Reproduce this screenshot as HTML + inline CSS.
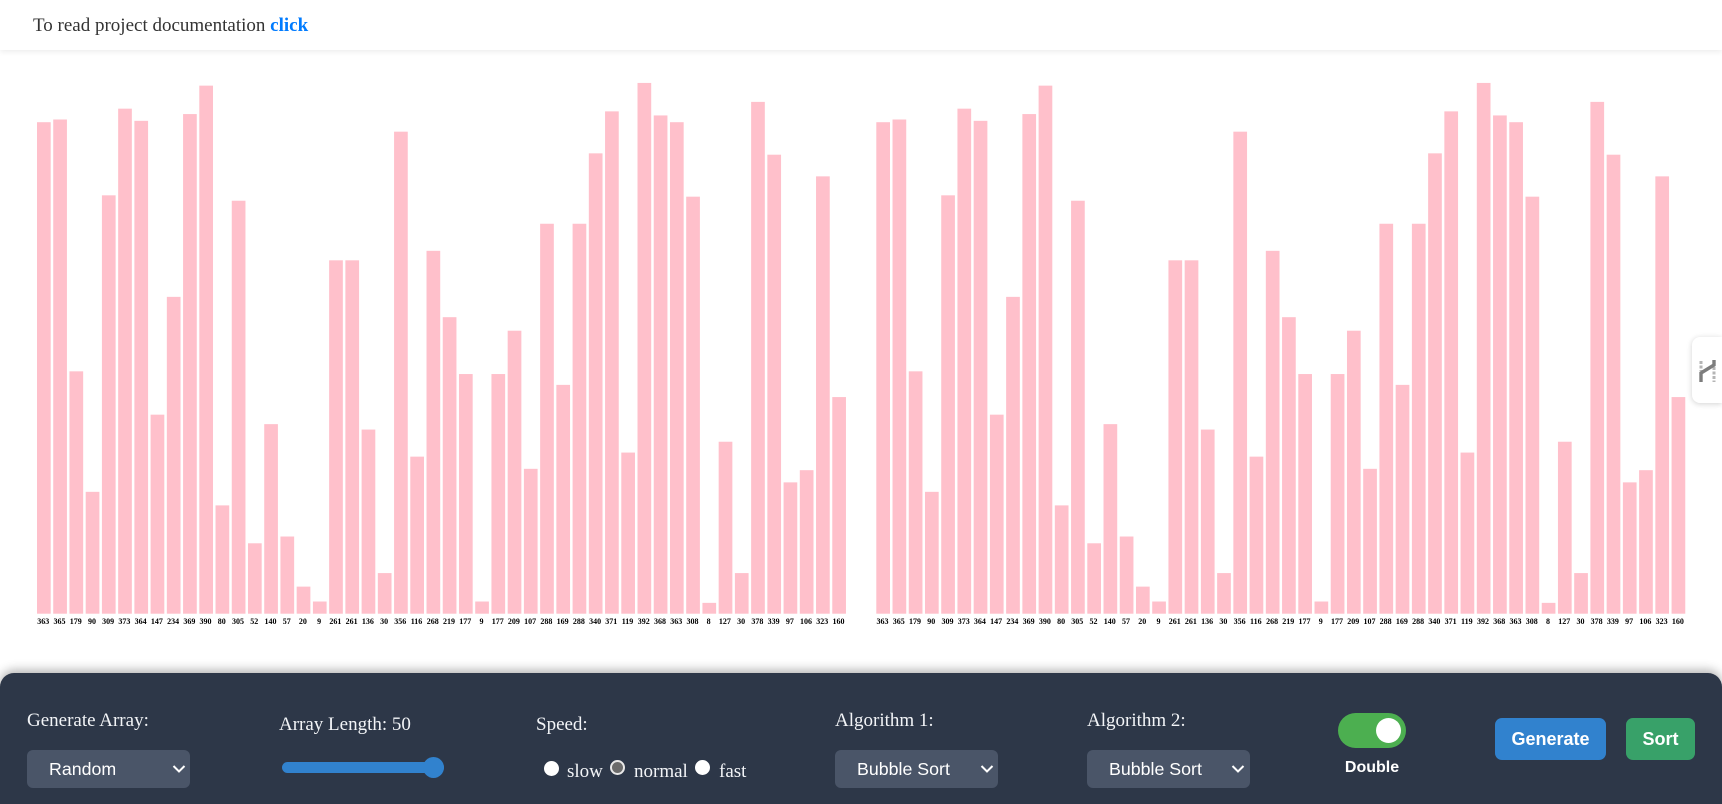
<!DOCTYPE html>
<html lang="en">
<head>
<meta charset="utf-8">
<title>Sorting Visualizer</title>
<style>
  html, body { margin: 0; padding: 0; width: 1722px; height: 804px; overflow: hidden; background: #fff; }
  body { position: relative; font-family: "Liberation Serif", serif; }
  .abs { position: absolute; white-space: nowrap; }
  #header { left: 0; top: 0; width: 1722px; height: 50px; background: #fff; box-shadow: 0 2px 5px rgba(0,0,0,.07); z-index: 2; }
  #doc-text { left: 33px; top: 15px; font-size: 19px; line-height: 22px; color: #333; }
  #doc-text a { color: #007bff; font-weight: bold; text-decoration: none; }
  #chart { left: 0; top: 0; width: 1722px; height: 673px; }
  #panel { left: 0; top: 673px; width: 1722px; height: 131px; background: #2d3748; border-radius: 14px 14px 0 0; box-shadow: 0 -3px 10px rgba(0,0,0,.3); }
  .lbl { color: #f2f4f7; font-size: 19px; line-height: 22px; }
  select.sel { position: absolute; top: 750px; width: 162.5px; height: 38px; border: none; border-radius: 6px; background: #4a5568; color: #fff; font-family: "Liberation Sans", sans-serif; font-size: 17.8px; padding: 0 0 0 22px; margin: 0; outline: none; -webkit-appearance: none; appearance: none; }
  .chevron { position: absolute; top: 764px; width: 14px; height: 10px; pointer-events: none; }
  #len-slider { left: 282px; top: 757px; width: 162px; height: 21px; margin: 0; -webkit-appearance: none; appearance: none; background: transparent; }
  #len-slider::-webkit-slider-runnable-track { height: 11px; border-radius: 6px; background: #3182ce; }
  #len-slider::-webkit-slider-thumb { -webkit-appearance: none; width: 21px; height: 21px; border-radius: 50%; background: #3182ce; margin-top: -5px; }
  .radio { -webkit-appearance: none; appearance: none; position: absolute; margin: 0; width: 15px; height: 15px; border-radius: 50%; background: #fff; box-sizing: border-box; }
  .radio:checked { background: #6b6b6b; border: 2px solid #e8e8e8; }
  #toggle { left: 1338px; top: 713px; width: 68px; height: 35px; border-radius: 18px; background: #4caf50; cursor: pointer; }
  #toggle-knob { left: 1376px; top: 718px; width: 25px; height: 25px; border-radius: 50%; background: #fff; }
  #double-label { left: 1306px; width: 132px; top: 758px; text-align: center; color: #fff; font-family: "Liberation Sans", sans-serif; font-weight: bold; font-size: 16px; line-height: 20px; }
  .btn { position: absolute; top: 718px; height: 42px; border: none; border-radius: 7px; color: #fff; font-family: "Liberation Sans", sans-serif; font-weight: bold; font-size: 18px; padding: 0; margin: 0; }
  #side-tab { left: 1692px; top: 337px; width: 30px; height: 66px; background: #fff; border-radius: 8px 0 0 8px; box-shadow: 0 1px 6px rgba(0,0,0,.18); }
</style>
</head>
<body>

<svg id="chart" class="abs" viewBox="0 0 1722 673" xmlns="http://www.w3.org/2000/svg"></svg>

<div id="header" class="abs">
  <div id="doc-text" class="abs">To read project documentation <a href="#">click</a></div>
</div>

<div id="side-tab" class="abs">
  <svg width="30" height="66" xmlns="http://www.w3.org/2000/svg">
    <path d="M9 24v10M22 30v15" stroke="#b5b5b5" stroke-width="3" fill="none" stroke-dasharray="3 1.5"/>
    <path d="M9 45V36L22 28V23" stroke="#7d7d7d" stroke-width="3.4" fill="none"/>
  </svg>
</div>

<div id="panel" class="abs"></div>

<div class="abs lbl" style="left:27px;top:710px">Generate Array:</div>
<select class="sel" style="left:27px">
  <option>Random</option><option>Nearly Sorted</option><option>Reversed</option>
</select>
<svg class="chevron" style="left:172px" viewBox="0 0 14 10" xmlns="http://www.w3.org/2000/svg"><path d="M1.5 2L7 7.5L12.5 2" stroke="#fff" stroke-width="2" fill="none"/></svg>

<div class="abs lbl" style="left:279px;top:714px">Array Length: 50</div>
<input id="len-slider" class="abs" type="range" min="5" max="50" value="50">

<div class="abs lbl" style="left:536px;top:714px">Speed:</div>
<input class="radio" type="radio" name="speed" style="left:544px;top:761px">
<div class="abs lbl" style="left:567px;top:761px">slow</div>
<input class="radio" type="radio" name="speed" checked style="left:610px;top:760px">
<div class="abs lbl" style="left:634px;top:761px">normal</div>
<input class="radio" type="radio" name="speed" style="left:695px;top:760px">
<div class="abs lbl" style="left:719px;top:761px">fast</div>

<div class="abs lbl" style="left:835px;top:710px">Algorithm 1:</div>
<select class="sel" style="left:835px">
  <option>Bubble Sort</option><option>Merge Sort</option><option>Quick Sort</option>
</select>
<svg class="chevron" style="left:979.5px" viewBox="0 0 14 10" xmlns="http://www.w3.org/2000/svg"><path d="M1.5 2L7 7.5L12.5 2" stroke="#fff" stroke-width="2" fill="none"/></svg>

<div class="abs lbl" style="left:1087px;top:710px">Algorithm 2:</div>
<select class="sel" style="left:1087px">
  <option>Bubble Sort</option><option>Merge Sort</option><option>Quick Sort</option>
</select>
<svg class="chevron" style="left:1231px" viewBox="0 0 14 10" xmlns="http://www.w3.org/2000/svg"><path d="M1.5 2L7 7.5L12.5 2" stroke="#fff" stroke-width="2" fill="none"/></svg>

<div id="toggle" class="abs"></div>
<div id="toggle-knob" class="abs"></div>
<div id="double-label" class="abs">Double</div>

<button class="btn" style="left:1495px;width:111px;background:#3182ce">Generate</button>
<button class="btn" style="left:1626px;width:69px;background:#38a169">Sort</button>

<script>
const arrayValues = [363,365,179,90,309,373,364,147,234,369,390,80,305,52,140,57,20,9,261,261,136,30,356,116,268,219,177,9,177,209,107,288,169,288,340,371,119,392,368,363,308,8,127,30,378,339,97,106,323,160];

const SVG_NS = 'http://www.w3.org/2000/svg';
const chartSvg = document.getElementById('chart');
const BASELINE = 613.7;
const UNIT = 1.354;
const PITCH = 16.23;
const BAR_W = 13.7;

function xScale(originX, index) { return originX + index * PITCH; }
function barHeight(value) { return value * UNIT; }

function drawChart(originX, chartName) {
  arrayValues.forEach(function (value, i) {
    const bar = document.createElementNS(SVG_NS, 'rect');
    bar.setAttribute('x', xScale(originX, i));
    bar.setAttribute('y', BASELINE - barHeight(value));
    bar.setAttribute('width', BAR_W);
    bar.setAttribute('height', barHeight(value));
    bar.setAttribute('fill', '#ffc0cb');
    
    
    chartSvg.appendChild(bar);

    const label = document.createElementNS(SVG_NS, 'text');
    label.setAttribute('x', xScale(originX, i) + BAR_W / 2 - 0.6);
    label.setAttribute('y', 624);
    label.setAttribute('text-anchor', 'middle');
    label.setAttribute('font-family', '"Liberation Serif", serif');
    label.setAttribute('font-weight', 'bold');
    label.setAttribute('font-size', '8');
    label.setAttribute('fill', '#000');
    
    
    label.textContent = value;
    chartSvg.appendChild(label);
  });
}

drawChart(37, 'chart-1');
drawChart(876.3, 'chart-2');
</script>
</body>
</html>
